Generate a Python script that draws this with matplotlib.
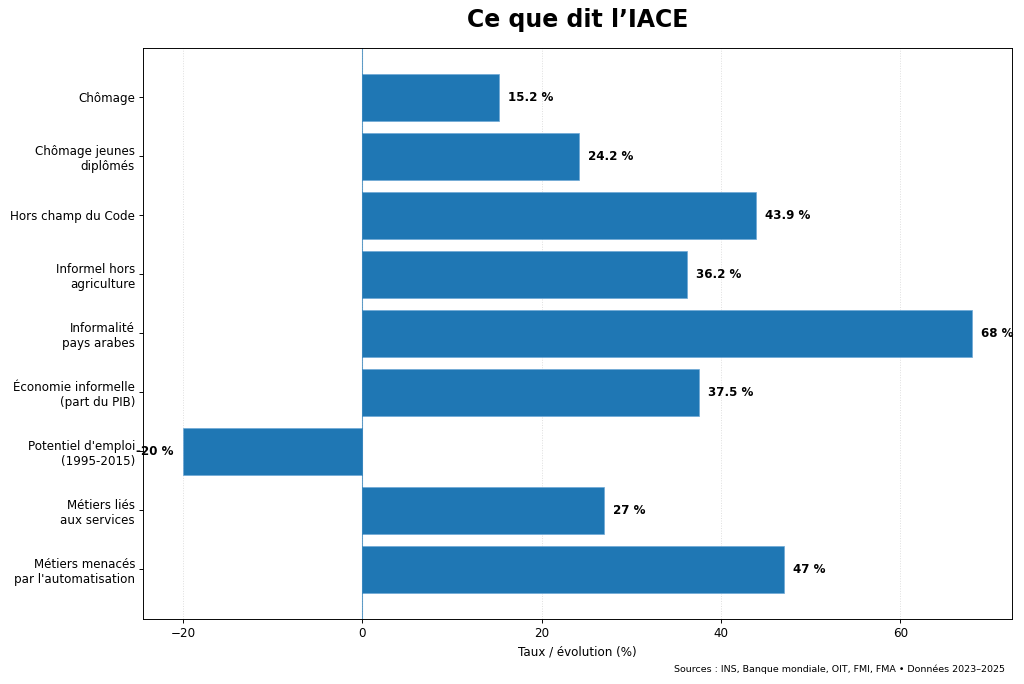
import matplotlib
matplotlib.use("Agg")
import matplotlib.pyplot as plt

# Données (taux / évolution en %)
categories = [
    "Chômage",
    "Chômage jeunes\ndiplômés",
    "Hors champ du Code",
    "Informel hors\nagriculture",
    "Informalité\npays arabes",
    "Économie informelle\n(part du PIB)",
    "Potentiel d'emploi\n(1995-2015)",
    "Métiers liés\naux services",
    "Métiers menacés\npar l'automatisation",
]
valeurs = [15.2, 24.2, 43.9, 36.2, 68, 37.5, -20, 27, 47]

titre = "Ce que dit l\u2019IACE"
label_x = "Taux / évolution (%)"
sources = "Sources : INS, Banque mondiale, OIT, FMI, FMA \u2022 Données 2023\u20132025"

DPI = 1024 / 12
fig, ax = plt.subplots(figsize=(12, 684 / DPI), dpi=DPI)

positions = list(range(len(categories)))
ax.barh(positions, valeurs, height=0.8, color="#1f77b4",
        edgecolor="#6fa8d6", linewidth=0.6)
ax.set_yticks(positions)
ax.set_yticklabels(categories, fontsize=10)
ax.invert_yaxis()

ax.axvline(0, color="#1f77b4", linewidth=0.9, alpha=0.7)
ax.grid(axis="x", linestyle=":", color="#dddddd", linewidth=0.8)
ax.set_axisbelow(True)

# Valeurs au bout des barres
for i, v in enumerate(valeurs):
    if v >= 0:
        ax.text(v + 1, i, f"{v:g} %", ha="left", va="center",
                fontsize=10, fontweight="bold")
    else:
        ax.text(v - 1, i, f"{v:g} %", ha="right", va="center",
                fontsize=10, fontweight="bold")

ax.set_xlabel(label_x, fontsize=10)
ax.tick_params(axis="x", labelsize=10)
ax.set_title(titre, fontsize=20, fontweight="bold", pad=18)

fig.text(0.981, 0.014, sources, ha="right", va="bottom", fontsize=8)

fig.subplots_adjust(left=0.14, right=0.988, top=0.93, bottom=0.095)
fig.savefig("out.png", dpi=DPI)
